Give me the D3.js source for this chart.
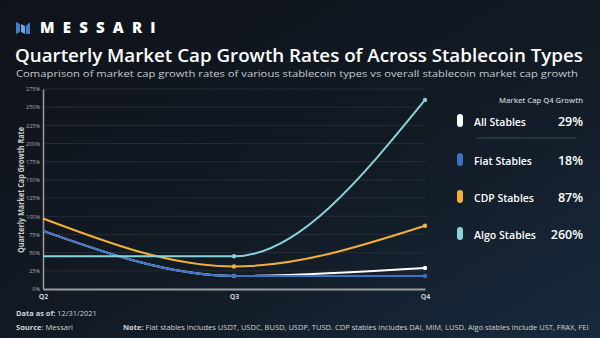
<!doctype html>
<html>
<head>
    <script src="https://d3js.org/d3.v7.min.js"></script>
    <style>
        body { margin: 0; background: #10151c; }
        text { font-family: "Open Sans", sans-serif; }
    </style>
</head>
<body>
    <svg width="600" height="338"></svg>

    <script>
        var quarters = ["Q2", "Q3", "Q4"];
        var seriesNames = ["All Stables", "Fiat Stables", "CDP Stables", "Algo Stables"];
        var allStables = [80, 18, 29];
        var fiatStables = [80, 18, 18];
        var cdpStables = [97, 31, 87];
        var algoStables = [45, 45, 260];
        var q4Growth = ["29%", "18%", "87%", "260%"];
        var yTicks = [0, 25, 50, 75, 100, 125, 150, 175, 200, 225, 250, 275];
        var colors = ["#ffffff", "#3a72c6", "#f2b134", "#86d3da"];

        var svg = d3.select("svg");

        // shrink/grow a text so it spans a given width
        function fit(sel, w) {
            var n = sel.node();
            var fs = +sel.attr("font-size");
            sel.attr("font-size", fs * w / n.getComputedTextLength());
            return sel;
        }

        // background gradient
        var defs = svg.append("defs");
        var grad = defs.append("linearGradient").attr("id", "bg")
            .attr("x1", "0%").attr("y1", "0%").attr("x2", "100%").attr("y2", "100%");
        grad.append("stop").attr("offset", "0%").attr("stop-color", "#0f131a");
        grad.append("stop").attr("offset", "55%").attr("stop-color", "#121a24");
        grad.append("stop").attr("offset", "100%").attr("stop-color", "#182a3d");
        svg.append("rect").attr("width", 600).attr("height", 338).attr("fill", "url(#bg)");

        // logo
        var logo = svg.append("g").attr("transform", "translate(16,20)");
        logo.append("path").attr("d", "M0,2 L4,4 L4,12 L0,14 Z").attr("fill", "#3f7fd0");
        logo.append("path").attr("d", "M5,4 L9,6 L9,14 L5,12 Z").attr("fill", "#6aa6e6");
        logo.append("path").attr("d", "M10,6 L14,2 L14,14 L10,14 Z").attr("fill", "#3f7fd0");
        svg.append("text").attr("x", 40).attr("y", 33)
            .attr("fill", "#fff").attr("font-size", 15).attr("font-weight", 800)
            .attr("letter-spacing", 8.2).attr("font-family", "Montserrat, 'Open Sans', sans-serif")
            .text("MESSARI");

        fit(svg.append("text").attr("x", 15).attr("y", 62)
            .attr("fill", "#fff").attr("font-size", 18).attr("font-weight", 600)
            .text("Quarterly Market Cap Growth Rates of Across Stablecoin Types"), 568);
        svg.append("text").attr("x", 16).attr("y", 77)
            .attr("fill", "#c4c8cc").attr("font-size", 9.4)
            .attr("textLength", 562).attr("lengthAdjust", "spacingAndGlyphs")
            .text("Comaprison of market cap growth rates of various stablecoin types vs overall stablecoin market cap growth");

        var x = d3.scalePoint().domain(quarters).range([43, 425]);
        var y = d3.scaleLinear().domain([0, 275]).range([289, 89]);

        var plot = svg.append("g");

        // gridlines
        plot.append("g").selectAll("line").data(yTicks.slice(1)).enter().append("line")
            .attr("x1", 43).attr("x2", 425)
            .attr("y1", d => y(d)).attr("y2", d => y(d))
            .attr("stroke", "#272d35").attr("stroke-width", 1);

        // y axis
        var yAxis = plot.append("g").attr("transform", "translate(43,0)")
            .call(d3.axisLeft(y).tickValues(yTicks).tickFormat(d => d + "%").tickSize(0).tickPadding(3));
        yAxis.select(".domain").attr("stroke", "#9a9ea3").attr("stroke-width", 1.5);
        yAxis.selectAll("text").attr("fill", "#a9adb2").attr("font-size", 5.5)
            .attr("font-family", "'Open Sans', sans-serif");

        // x axis
        var xAxis = plot.append("g").attr("transform", "translate(0,289)")
            .call(d3.axisBottom(x).tickSize(0).tickPadding(5));
        xAxis.select(".domain").attr("stroke", "#9a9ea3").attr("stroke-width", 2);
        xAxis.selectAll("text").attr("fill", "#c8ccd0").attr("font-size", 7).attr("font-weight", 700)
            .attr("font-family", "'Open Sans', sans-serif");

        svg.append("text")
            .attr("transform", "translate(24,190) rotate(-90)")
            .attr("text-anchor", "middle").attr("fill", "#c8ccd0")
            .attr("font-size", 8.4).attr("font-weight", 700)
            .attr("textLength", 126).attr("lengthAdjust", "spacingAndGlyphs")
            .text("Quarterly Market Cap Growth Rate");

        // lines
        var series = [allStables, fiatStables, cdpStables, algoStables];
        var line = d3.line()
            .x((d, i) => x(quarters[i]))
            .y(d => y(d))
            .curve(d3.curveMonotoneX);

        series.forEach(function (s, k) {
            var g = plot.append("g");
            g.append("path").datum(s)
                .attr("fill", "none").attr("stroke", colors[k]).attr("stroke-width", 2)
                .attr("d", line);
            g.selectAll("circle").data(s.slice(1)).enter().append("circle")
                .attr("cx", (d, i) => x(quarters[i + 1]))
                .attr("cy", d => y(d))
                .attr("r", 2.2).attr("fill", colors[k]);
        });

        // legend
        svg.append("text").attr("x", 583).attr("y", 103).attr("text-anchor", "end")
            .attr("fill", "#c4c8cc").attr("font-size", 7.6).attr("font-weight", 600)
            .text("Market Cap Q4 Growth");

        var rowY = [121, 160, 197, 234];
        var labelW = [52, 58, 60, 62];
        var legend = svg.append("g").selectAll("g").data(seriesNames).enter().append("g")
            .attr("transform", (d, i) => "translate(0," + rowY[i] + ")");
        legend.append("rect").attr("x", 457).attr("y", -7).attr("width", 6).attr("height", 13)
            .attr("rx", 3).attr("fill", (d, i) => colors[i]);
        legend.append("text").attr("x", 474).attr("y", 5)
            .attr("fill", "#fff").attr("font-size", 11.5).attr("font-weight", 600)
            .text(d => d)
            .each(function (d, i) { fit(d3.select(this), labelW[i]); });
        legend.append("text").attr("x", 583).attr("y", 5).attr("text-anchor", "end")
            .attr("fill", "#fff").attr("font-size", 12.5).attr("font-weight", 600)
            .text((d, i) => q4Growth[i]);

        svg.append("line").attr("x1", 477).attr("x2", 576).attr("y1", 138).attr("y2", 138)
            .attr("stroke", "#3c4a5a").attr("stroke-width", 1);

        // footer
        var f1 = svg.append("text").attr("x", 16).attr("y", 316).attr("fill", "#d0d3d6").attr("font-size", 7.8);
        f1.append("tspan").attr("font-weight", 700).text("Data as of: ");
        f1.append("tspan").text("12/31/2021");
        fit(f1, 81);
        var f2 = svg.append("text").attr("x", 16).attr("y", 330).attr("fill", "#d0d3d6").attr("font-size", 7.8);
        f2.append("tspan").attr("font-weight", 700).text("Source");
        f2.append("tspan").text(": Messari");
        fit(f2, 57);
        var f3 = svg.append("text").attr("x", 123).attr("y", 330).attr("fill", "#d0d3d6").attr("font-size", 7.8);
        f3.append("tspan").attr("font-weight", 700).text("Note: ");
        f3.append("tspan").text("Fiat stables includes USDT, USDC, BUSD, USDP, TUSD. CDP stables includes DAI, MIM, LUSD. Algo stables include UST, FRAX, FEI");
        fit(f3, 466);
    </script>
</body>
</html>
